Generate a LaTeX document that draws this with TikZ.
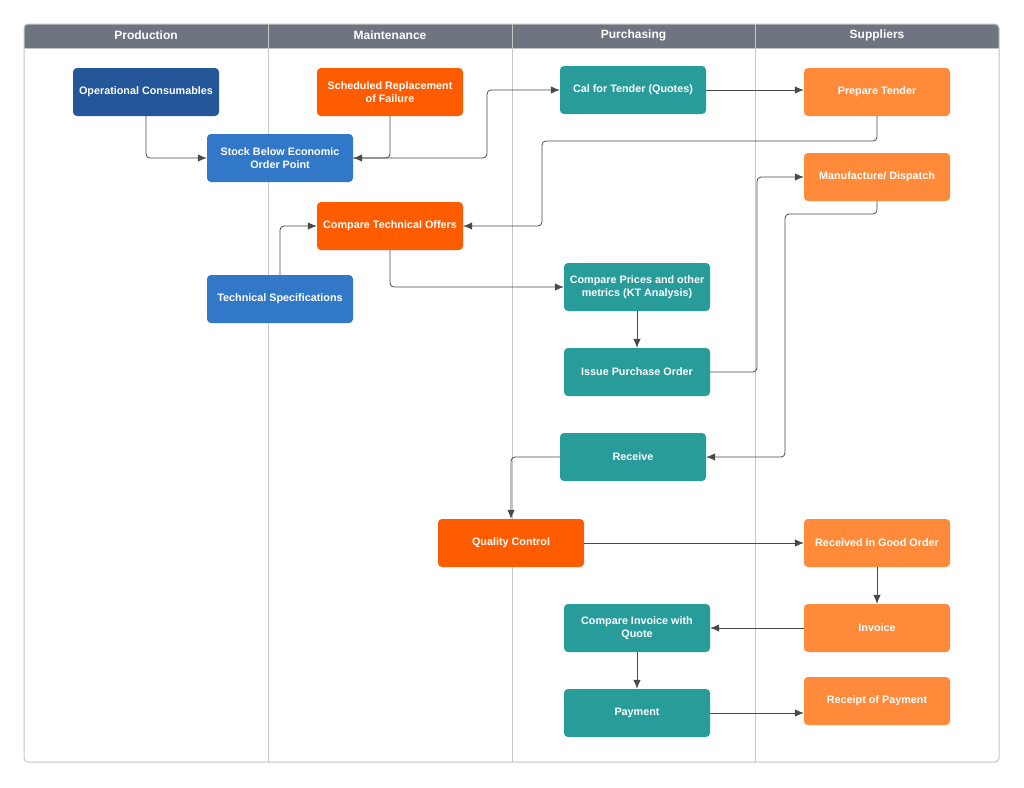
\documentclass[tikz,border=0pt]{standalone}
\usepackage{fontspec}
\setmainfont{Liberation Sans}
\usetikzlibrary{arrows.meta}
\definecolor{hdr}{HTML}{6F7580}
\definecolor{lane}{HTML}{C6C6C6}
\definecolor{dblue}{HTML}{24579A}
\definecolor{mblue}{HTML}{3178C9}
\definecolor{teal}{HTML}{279C9A}
\definecolor{dorange}{HTML}{FF5B00}
\definecolor{lorange}{HTML}{FF8A3A}
\definecolor{conn}{HTML}{4A4A4A}
\tikzset{
  box/.style={rectangle, rounded corners=4pt, minimum width=146pt, minimum height=48pt,
    align=center, text=white, inner sep=0pt,
    font=\bfseries\fontsize{10.8}{13}\selectfont},
  prod/.style={box, fill=dblue},
  blu/.style={box, fill=mblue},
  tl/.style={box, fill=teal},
  dor/.style={box, fill=dorange},
  lor/.style={box, fill=lorange},
  conn/.style={draw=conn, line width=0.8pt, rounded corners=4pt, -{Latex[length=9pt,width=7.5pt]}},
  lanehead/.style={text=white, font=\bfseries\fontsize{12}{14}\selectfont},
}
\begin{document}
\begin{tikzpicture}[x=1pt,y=-1pt]
\useasboundingbox (0,0) rectangle (1024,787);
\fill[white] (0,0) rectangle (1024,787);
% header band
\fill[hdr, rounded corners=4pt] (24,24) rectangle (999,48);
\fill[hdr] (24,40) rectangle (999,48);
% frame
\draw[lane, line width=1pt, rounded corners=4pt] (24,24) rectangle (999,762);
% lane dividers
\foreach \xx in {268,512,755} {
  \draw[lane, line width=1pt] (\xx,24) -- (\xx,762);
}
\draw[lane, line width=1pt] (24,48) -- (999,48);
% headers
\node[lanehead] (hprod) at (146,35.5) {Production};
\node[lanehead] (hmaint) at (390,35.5) {Maintenance};
\node[lanehead] (hpurch) at (633.5,35.5) {Purchasing};
\node[lanehead] (hsupp) at (877,35.5) {Suppliers};
% nodes
\node[prod] (opc) at (146,92) {Operational Consumables};
\node[dor] (sched) at (390,92) {Scheduled Replacement\\of Failure};
\node[blu] (stock) at (280,158) {Stock Below Economic\\Order Point};
\node[tl] (cal) at (633,90) {Cal for Tender (Quotes)};
\node[lor] (prep) at (877,92) {Prepare Tender};
\node[lor] (manu) at (877,177) {Manufacture/ Dispatch};
\node[dor] (ctech) at (390,226) {Compare Technical Offers};
\node[blu] (tspec) at (280,299) {Technical Specifications};
\node[tl] (cprice) at (637,287) {Compare Prices and other\\metrics (KT Analysis)};
\node[tl] (ipo) at (637,372) {Issue Purchase Order};
\node[tl] (recv) at (633,457) {Receive};
\node[dor] (qc) at (511,543) {Quality Control};
\node[lor] (rgo) at (877,543) {Received in Good Order};
\node[lor] (inv) at (877,628) {Invoice};
\node[tl] (cinv) at (637,628) {Compare Invoice with\\Quote};
\node[tl] (pay) at (637,713) {Payment};
\node[lor] (rpay) at (877,701) {Receipt of Payment};
% connectors
\draw[conn] (opc.south) |- (stock.west);
\draw[conn] (sched.south) |- (stock.east);
\draw[conn] (stock.east) -- (487,158) |- (cal.west);
\draw[conn] (cal.east) -- (prep.west |- cal.east);
\draw[conn] (prep.south) -- (877,141) -- (542,141) |- (ctech.east);
\draw[conn] (tspec.north) |- (ctech.west);
\draw[conn] (ctech.south) |- (cprice.west);
\draw[conn] (cprice.south) -- (ipo.north);
\draw[conn] (ipo.east) -- (757,372) |- (manu.west);
\draw[conn] (manu.south) -- (877,214) -- (785,214) |- (recv.east);
\draw[conn] (recv.west) -| (qc.north);
\draw[conn] (qc.east) -- (rgo.west);
\draw[conn] (rgo.south) -- (inv.north);
\draw[conn] (inv.west) -- (cinv.east);
\draw[conn] (cinv.south) -- (pay.north);
\draw[conn] (pay.east) -- (rpay.west |- pay.east);
\end{tikzpicture}
\end{document}
